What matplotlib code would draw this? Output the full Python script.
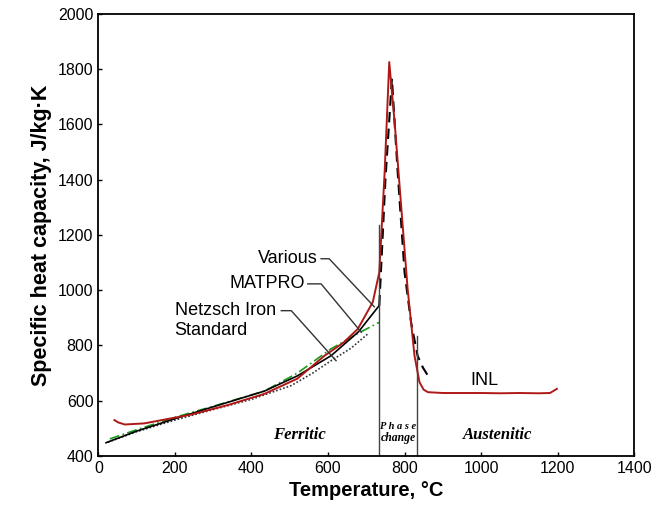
import matplotlib
matplotlib.use("Agg")
import matplotlib.pyplot as plt

plt.rcParams['font.family'] = ['Liberation Sans', 'DejaVu Sans']

# INL measured curve (red)
inl_t = [42, 51, 69, 120, 243, 340, 434, 520, 591, 640, 678, 717, 734, 748, 760,
         774, 791, 808, 826, 839, 850, 861, 900, 950, 1000, 1050, 1100, 1150, 1180, 1198]
inl_cp = [530, 522, 514, 518, 550, 585, 625, 680, 763, 810, 860, 957, 1065, 1428, 1826,
          1609, 1307, 1005, 763, 667, 640, 631, 628, 628, 628, 627, 628, 627, 628, 643]

# Various (solid black, ferritic only)
var_t = [20, 100, 200, 300, 434, 520, 608, 680, 734]
var_cp = [448, 490, 535, 578, 635, 690, 763, 850, 945]

# MATPRO (dashed black, phase change)
mat_t = [734, 750, 767, 782, 800, 817, 834, 848, 861]
mat_cp = [945, 1400, 1766, 1428, 1065, 884, 763, 720, 691]

# Netzsch iron standard (dotted black)
net_t = [25, 100, 200, 300, 400, 504, 560, 608, 660, 704]
net_cp = [450, 488, 530, 568, 605, 655, 700, 745, 790, 842]

# Green dash-dot curve
grn_t = [30, 100, 200, 300, 434, 520, 608, 680, 734]
grn_cp = [462, 495, 540, 580, 635, 700, 788, 845, 884]

# Phase change boundaries
bound_t = [734, 833]
bound_top = [1237, 835]

fig, ax = plt.subplots(figsize=(6.69, 5.17), dpi=100)
fig.subplots_adjust(left=0.147, right=0.948, top=0.973, bottom=0.118)

ax.plot(net_t, net_cp, color='#333333', linestyle=(0, (1, 1.2)), linewidth=1.2)
ax.plot(grn_t, grn_cp, color='#1a9a1a', linestyle=(0, (6, 2, 1, 2)), linewidth=1.2)
ax.plot(var_t, var_cp, color='black', linewidth=1.2)
ax.plot(mat_t, mat_cp, color='black', linestyle=(0, (5, 3)), linewidth=1.5)
ax.plot(inl_t, inl_cp, color='#b01818', linewidth=1.4)

for t, top in zip(bound_t, bound_top):
    ax.plot([t, t], [400, top], color='#444444', linewidth=1.0)

# leader lines for the labels
ax.plot([582, 603, 721], [1114, 1114, 940], color='#333333', linewidth=1.0)
ax.plot([547, 582, 687], [1023, 1023, 848], color='#333333', linewidth=1.0)
ax.plot([478, 504, 621], [926, 926, 745], color='#333333', linewidth=1.0)

ax.text(572, 1114, 'Various', ha='right', va='center', fontsize=13)
ax.text(539, 1023, 'MATPRO', ha='right', va='center', fontsize=13)
ax.text(199, 926, 'Netzsch Iron', ha='left', va='center', fontsize=13)
ax.text(199, 854, 'Standard', ha='left', va='center', fontsize=13)
ax.text(1008, 675, 'INL', ha='center', va='center', fontsize=13)

serif = ['Liberation Serif', 'DejaVu Serif']
ax.text(525, 476, 'Ferritic', ha='center', va='center', fontsize=12,
        style='italic', fontweight='bold', family=serif)
ax.text(1044, 476, 'Austenitic', ha='center', va='center', fontsize=12,
        style='italic', fontweight='bold', family=serif)
ax.text(783, 505, 'P h a s e', ha='center', va='center', fontsize=7.5,
        style='italic', fontweight='bold', family=serif)
ax.text(783, 465, 'change', ha='center', va='center', fontsize=8.5,
        style='italic', fontweight='bold', family=serif)

ax.set_xlim(0, 1400)
ax.set_ylim(400, 2000)
ax.set_xticks(range(0, 1401, 200))
ax.set_yticks(range(400, 2001, 200))
ax.tick_params(direction='in', length=3, labelsize=11.5, width=1)
ax.set_xlabel('Temperature, °C', fontsize=14.5, fontweight='bold')
ax.set_ylabel('Specific heat capacity, J/kg·K', fontsize=15.5, fontweight='bold')
for s in ax.spines.values():
    s.set_linewidth(1.3)

plt.savefig('out.png', dpi=100)
